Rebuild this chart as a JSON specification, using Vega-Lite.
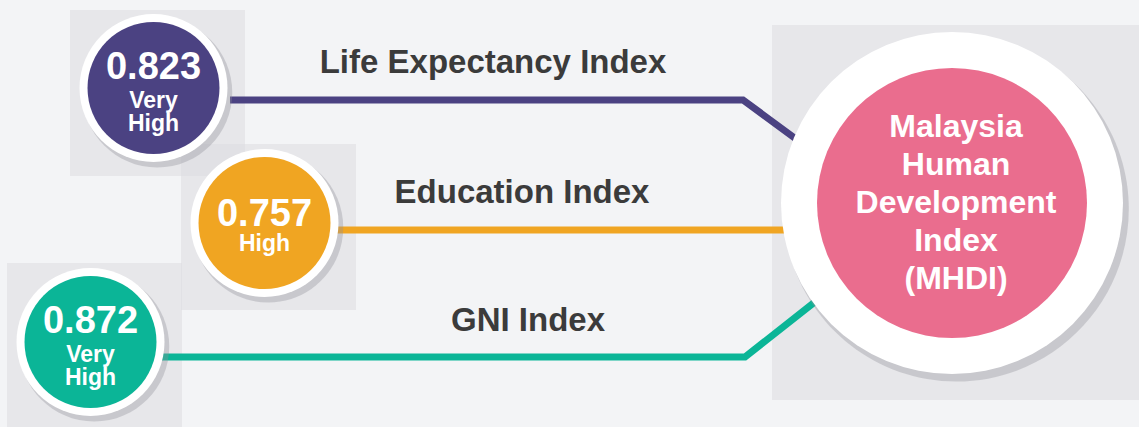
{
  "$schema": "https://vega.github.io/schema/vega-lite/v6.json",
  "width": 1139,
  "height": 427,
  "autosize": {"type": "fit", "contains": "padding"},
  "padding": 0,
  "background": "#f3f4f6",
  "config": {"view": {"stroke": null}, "text": {"font": "Liberation Sans"}},
  "datasets": {
    "panels": [
      {"panel": "Life Expectancy Index", "x0": 70, "x1": 245, "y0": 10, "y1": 176},
      {"panel": "Education Index", "x0": 181, "x1": 356, "y0": 144, "y1": 310},
      {"panel": "GNI Index", "x0": 7, "x1": 182, "y0": 263, "y1": 427},
      {"panel": "MHDI", "x0": 772, "x1": 1139, "y0": 25, "y1": 400}
    ],
    "links": [
      {"indicator": "Life Expectancy Index", "step": 1, "x": 230, "y": 100},
      {"indicator": "Life Expectancy Index", "step": 2, "x": 743, "y": 100},
      {"indicator": "Life Expectancy Index", "step": 3, "x": 830, "y": 164},
      {"indicator": "Education Index", "step": 1, "x": 330, "y": 230},
      {"indicator": "Education Index", "step": 2, "x": 800, "y": 230},
      {"indicator": "GNI Index", "step": 1, "x": 160, "y": 357},
      {"indicator": "GNI Index", "step": 2, "x": 745, "y": 357},
      {"indicator": "GNI Index", "step": 3, "x": 830, "y": 290}
    ],
    "nodes": [
      {"indicator": "Life Expectancy Index", "value": "0.823", "rating": "Very High", "cx": 153.5, "cy": 88, "lx": 493, "ly": 73},
      {"indicator": "Education Index", "value": "0.757", "rating": "High", "cx": 264.5, "cy": 223, "lx": 522, "ly": 203},
      {"indicator": "GNI Index", "value": "0.872", "rating": "Very High", "cx": 90.5, "cy": 342, "lx": 528, "ly": 331}
    ],
    "hub": [
      {"name": "Malaysia Human Development Index (MHDI)", "cx": 952, "cy": 203}
    ]
  },
  "layer": [
    {
      "data": {"name": "panels"},
      "mark": {"type": "rect", "fill": "#dcdde0", "opacity": 0.55},
      "encoding": {
        "x": {"field": "x0", "type": "quantitative", "scale": {"domain": [0, 1139], "nice": false, "zero": false}, "axis": null},
        "x2": {"field": "x1"},
        "y": {"field": "y0", "type": "quantitative", "scale": {"domain": [0, 427], "nice": false, "zero": false, "reverse": true}, "axis": null},
        "y2": {"field": "y1"}
      }
    },
    {
      "data": {"name": "links"},
      "mark": {"type": "line", "strokeWidth": 7, "strokeCap": "butt", "strokeJoin": "miter"},
      "encoding": {
        "x": {"field": "x", "type": "quantitative"},
        "y": {"field": "y", "type": "quantitative"},
        "order": {"field": "step"},
        "detail": {"field": "indicator"},
        "color": {"field": "indicator", "type": "nominal", "legend": null,
          "scale": {"domain": ["Life Expectancy Index", "Education Index", "GNI Index"], "range": ["#4b4282", "#f0a522", "#0bb597"]}}
      }
    },
    {
      "data": {"name": "nodes"},
      "mark": {"type": "point", "filled": true, "fill": "#8e8e99", "opacity": 0.35, "size": 22500,
        "shape": "M -0.95 0.06 A 1 1 0 1 0 1.05 0.06 A 1 1 0 1 0 -0.95 0.06 Z"},
      "encoding": {
        "x": {"field": "cx", "type": "quantitative"},
        "y": {"field": "cy", "type": "quantitative"}
      }
    },
    {
      "data": {"name": "nodes"},
      "mark": {"type": "point", "filled": true, "fill": "#ffffff", "opacity": 1, "size": 21904, "shape": "circle"},
      "encoding": {
        "x": {"field": "cx", "type": "quantitative"},
        "y": {"field": "cy", "type": "quantitative"}
      }
    },
    {
      "data": {"name": "nodes"},
      "mark": {"type": "point", "filled": true, "opacity": 1, "size": 17424, "shape": "circle"},
      "encoding": {
        "x": {"field": "cx", "type": "quantitative"},
        "y": {"field": "cy", "type": "quantitative"},
        "color": {"field": "indicator", "type": "nominal", "legend": null}
      }
    },
    {
      "data": {"name": "nodes"},
      "transform": [{"filter": "datum.rating == 'Very High'"}],
      "mark": {"type": "text", "fontSize": 38, "fontWeight": "bold", "fill": "#ffffff", "align": "center", "baseline": "alphabetic", "dy": -9},
      "encoding": {
        "x": {"field": "cx", "type": "quantitative"},
        "y": {"field": "cy", "type": "quantitative"},
        "text": {"field": "value"}
      }
    },
    {
      "data": {"name": "nodes"},
      "transform": [{"filter": "datum.rating == 'High'"}],
      "mark": {"type": "text", "fontSize": 38, "fontWeight": "bold", "fill": "#ffffff", "align": "center", "baseline": "alphabetic", "dy": 3},
      "encoding": {
        "x": {"field": "cx", "type": "quantitative"},
        "y": {"field": "cy", "type": "quantitative"},
        "text": {"field": "value"}
      }
    },
    {
      "data": {"name": "nodes"},
      "transform": [{"filter": "datum.rating == 'Very High'"}],
      "mark": {"type": "text", "fontSize": 23, "fontWeight": "bold", "fill": "#ffffff", "align": "center", "baseline": "alphabetic", "dy": 20, "lineBreak": " ", "lineHeight": 23},
      "encoding": {
        "x": {"field": "cx", "type": "quantitative"},
        "y": {"field": "cy", "type": "quantitative"},
        "text": {"field": "rating"}
      }
    },
    {
      "data": {"name": "nodes"},
      "transform": [{"filter": "datum.rating == 'High'"}],
      "mark": {"type": "text", "fontSize": 23, "fontWeight": "bold", "fill": "#ffffff", "align": "center", "baseline": "alphabetic", "dy": 28},
      "encoding": {
        "x": {"field": "cx", "type": "quantitative"},
        "y": {"field": "cy", "type": "quantitative"},
        "text": {"field": "rating"}
      }
    },
    {
      "data": {"name": "nodes"},
      "mark": {"type": "text", "fontSize": 33, "fontWeight": "bold", "fill": "#3b3b3b", "align": "center", "baseline": "alphabetic"},
      "encoding": {
        "x": {"field": "lx", "type": "quantitative"},
        "y": {"field": "ly", "type": "quantitative"},
        "text": {"field": "indicator"}
      }
    },
    {
      "data": {"name": "hub"},
      "mark": {"type": "point", "filled": true, "fill": "#8e8e99", "opacity": 0.35, "size": 119000,
        "shape": "M -0.975 0.035 A 1 1 0 1 0 1.025 0.035 A 1 1 0 1 0 -0.975 0.035 Z"},
      "encoding": {
        "x": {"field": "cx", "type": "quantitative"},
        "y": {"field": "cy", "type": "quantitative"}
      }
    },
    {
      "data": {"name": "hub"},
      "mark": {"type": "point", "filled": true, "fill": "#ffffff", "opacity": 1, "size": 116964, "shape": "circle"},
      "encoding": {
        "x": {"field": "cx", "type": "quantitative"},
        "y": {"field": "cy", "type": "quantitative"}
      }
    },
    {
      "data": {"name": "hub"},
      "mark": {"type": "point", "filled": true, "fill": "#ea6d8e", "opacity": 1, "size": 72900, "shape": "circle"},
      "encoding": {
        "x": {"field": "cx", "type": "quantitative"},
        "y": {"field": "cy", "type": "quantitative"}
      }
    },
    {
      "data": {"name": "hub"},
      "mark": {"type": "text", "fontSize": 32, "fontWeight": "bold", "fill": "#ffffff", "align": "center", "baseline": "alphabetic", "dx": 4, "dy": -66, "lineBreak": " ", "lineHeight": 38},
      "encoding": {
        "x": {"field": "cx", "type": "quantitative"},
        "y": {"field": "cy", "type": "quantitative"},
        "text": {"field": "name"}
      }
    }
  ]
}
